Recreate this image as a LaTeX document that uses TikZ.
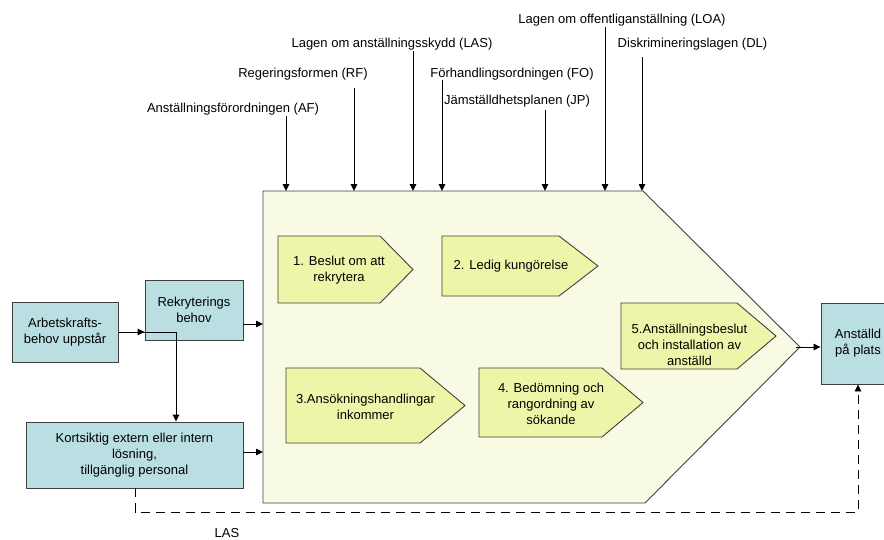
\documentclass[tikz,border=0pt]{standalone}
\usepackage{fontspec}
\setmainfont{Liberation Sans}
\usetikzlibrary{arrows.meta}
\definecolor{boxblue}{HTML}{B9DFE3}
\definecolor{stepyellow}{HTML}{EEF5A8}
\definecolor{panelfill}{HTML}{F8FAE3}
\definecolor{edgegray}{HTML}{404040}
\begin{document}
\begin{tikzpicture}[x=1pt,y=-1pt,
  font=\fontsize{13}{16}\selectfont,
  arr/.style={draw=black, line width=0.9pt, -{Triangle[length=7pt,width=6.5pt]}},
  dasharr/.style={arr, dash pattern=on 9pt off 6pt},
  infobox/.style={draw=edgegray, fill=boxblue, line width=0.9pt, align=center, inner sep=0pt},
  panel/.style={draw=edgegray, fill=panelfill, line width=0.9pt},
  stepshape/.style={draw=edgegray, fill=stepyellow, line width=0.9pt},
  steptext/.style={align=center, inner sep=0pt},
  lawlabel/.style={anchor=base, inner sep=0pt},
]
\clip (0,0) rectangle (884,539);

% process panel (pentagon)
\draw[panel] (263,191) -- (643,191) -- (800,347) -- (645,503) -- (263,503) -- cycle;
\coordinate (panelTop) at (263,191);
\coordinate (tip) at (796,347);
\coordinate (inR) at (263,324);
\coordinate (inK) at (263,452);

% process steps
\draw[stepshape] (278,236) -- (380,236) -- (413,269.5) -- (380,303) -- (278,303) -- cycle;
\node[steptext] (s1) at (339,270) {1. Beslut om att\\rekrytera};
\draw[stepshape] (442,236) -- (559,236) -- (598,266) -- (559,296) -- (442,296) -- cycle;
\node[steptext] (s2) at (511,266) {2. Ledig kungörelse};
\draw[stepshape] (286,368) -- (420,368) -- (465,405.5) -- (420,443) -- (286,443) -- cycle;
\node[steptext] (s3) at (365.5,407) {3.Ansökningshandlingar\\inkommer};
\draw[stepshape] (479,368) -- (602,368) -- (643,402.5) -- (602,437) -- (479,437) -- cycle;
\node[steptext] (s4) at (551,403.5) {4. Bedömning och\\rangordning av\\sökande};
\draw[stepshape] (621,303) -- (737,303) -- (776,336) -- (737,369) -- (621,369) -- cycle;
\node[steptext] (s5) at (689.5,345) {5.Anställningsbeslut\\och installation av\\anställd};

% side boxes
\node[infobox, minimum width=106pt, minimum height=60pt] (arb) at (65,332) {Arbetskrafts-\\behov uppstår};
\node[infobox, minimum width=98pt, minimum height=60pt] (rek) at (194,310) {Rekryterings\\behov};
\node[infobox, minimum width=217pt, minimum height=66pt] (kort) at (134.5,455) {Kortsiktig extern eller intern\\lösning,\\tillgänglig personal};
\node[infobox, minimum width=74pt, minimum height=81pt] (anst) at (858,343.5) {Anställd\\på plats};

% flow connectors
\coordinate (bend) at (176,332);
\draw[arr] (arb.east) -- (rek.west |- arb.east);
\draw[arr] (arb.east) -- (bend) -- (bend |- kort.north);
\draw[arr] (rek.east |- inR) -- (inR);
\draw[arr] (kort.east |- inK) -- (inK);
\draw[arr] (tip) -- (anst.west |- tip);
\coordinate (lasL) at (135,512);
\coordinate (lasR) at (858,512);
\draw[dasharr] (kort.south -| lasL) -- (lasL) -- (lasR) -- (anst.south);
\node[inner sep=0pt] (las) at (227,533) {LAS};

% governing laws
\node[lawlabel] (af) at (233,112.5) {Anställningsförordningen (AF)};
\node[lawlabel] (rf) at (303,77.5) {Regeringsformen (RF)};
\node[lawlabel] (lasLaw) at (392,47) {Lagen om anställningsskydd (LAS)};
\node[lawlabel] (fo) at (512,77.5) {Förhandlingsordningen (FO)};
\node[lawlabel] (jp) at (517,104.5) {Jämställdhetsplanen (JP)};
\node[lawlabel] (loa) at (622,23) {Lagen om offentliganställning (LOA)};
\node[lawlabel] (dl) at (692.5,47.5) {Diskrimineringslagen (DL)};

\coordinate (afTop) at (286,116);
\coordinate (rfTop) at (354,88);
\coordinate (lasTop) at (413,51);
\coordinate (foTop) at (442,80);
\coordinate (jpTop) at (545,110);
\coordinate (loaTop) at (605,27);
\coordinate (dlTop) at (642,57);
\foreach \p in {afTop,rfTop,lasTop,foTop,jpTop,loaTop,dlTop}
  \draw[arr] (\p) -- (\p |- panelTop);
\end{tikzpicture}
\end{document}
